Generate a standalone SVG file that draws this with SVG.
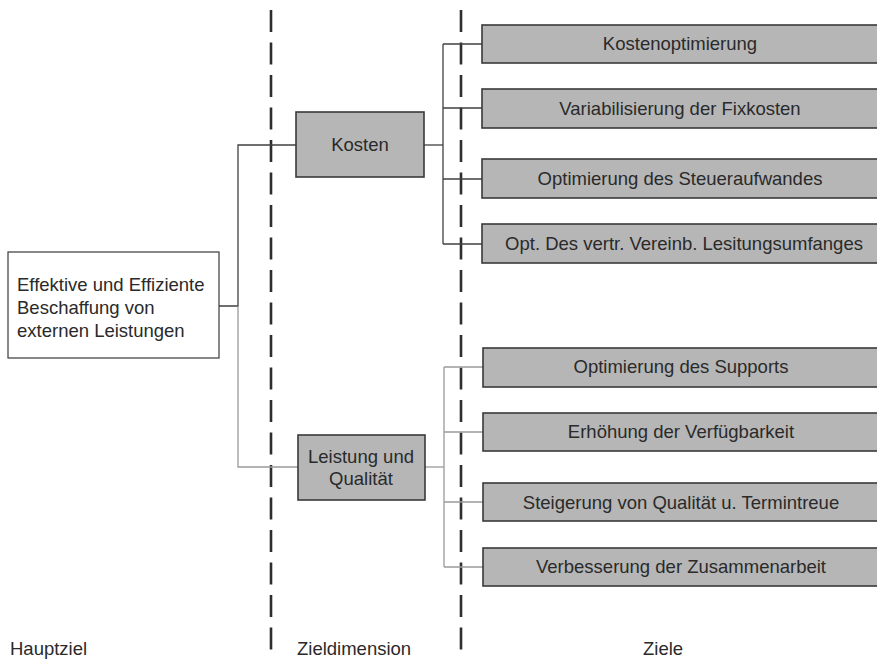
<svg xmlns="http://www.w3.org/2000/svg" width="877" height="660" viewBox="0 0 877 660">
<style>
.box{fill:#b6b6b6;stroke:#3a3a3a;stroke-width:1.6}
.main{fill:#ffffff;stroke:#3a3a3a;stroke-width:1.2}
.t{font-family:"Liberation Sans",Arial,sans-serif;font-size:18.5px;fill:#2a2a2a}
.c{text-anchor:middle}
.dash{stroke:#2e2e2e;stroke-width:2.6;stroke-dasharray:22 10.5;fill:none}
.dk{stroke:#404040;stroke-width:1.3;fill:none}
.lt{stroke:#9a9a9a;stroke-width:1.3;fill:none}
</style>
<g id="dividers">
<line class="dash" x1="271" y1="10" x2="271" y2="650"/>
<line class="dash" x1="461" y1="10" x2="461" y2="650"/>
</g>
<g id="connectors">
<path class="dk" d="M219,306 H238 V145 H296"/>
<path class="lt" d="M238,306 V467 H298"/>
<path class="dk" d="M424,145 H443"/>
<path class="dk" d="M443,44 V244"/>
<path class="dk" d="M443,44 H482 M443,108 H482 M443,179 H482 M443,244 H482"/>
<path class="lt" d="M425,467 H444"/>
<path class="lt" d="M444,367 V567"/>
<path class="lt" d="M444,367 H483 M444,432 H483 M444,502 H483 M444,567 H483"/>
</g>
<g id="hauptziel">
<rect class="main" x="8" y="252" width="211" height="106"/>
<text class="t" x="17" y="291">Effektive und Effiziente</text>
<text class="t" x="17" y="314">Beschaffung von</text>
<text class="t" x="17" y="337">externen Leistungen</text>
</g>
<g id="kosten">
<rect class="box" x="296" y="112" width="128" height="65"/>
<text class="t c" x="360" y="151">Kosten</text>
</g>
<g id="leistung">
<rect class="box" x="298" y="435" width="127" height="65"/>
<text class="t c" x="361" y="463">Leistung und</text>
<text class="t c" x="361" y="485">Qualität</text>
</g>
<g id="z1"><rect class="box" x="482" y="25" width="400" height="38"/><text class="t c" x="680" y="50">Kostenoptimierung</text></g>
<g id="z2"><rect class="box" x="482" y="89" width="400" height="39"/><text class="t c" x="680" y="115">Variabilisierung der Fixkosten</text></g>
<g id="z3"><rect class="box" x="482" y="159" width="400" height="39"/><text class="t c" x="680" y="185">Optimierung des Steueraufwandes</text></g>
<g id="z4"><rect class="box" x="482" y="224" width="400" height="39"/><text class="t c" x="684" y="250">Opt. Des vertr. Vereinb. Lesitungsumfanges</text></g>
<g id="z5"><rect class="box" x="483" y="348" width="400" height="39"/><text class="t c" x="681" y="373">Optimierung des Supports</text></g>
<g id="z6"><rect class="box" x="483" y="413" width="400" height="38"/><text class="t c" x="681" y="438">Erhöhung der Verfügbarkeit</text></g>
<g id="z7"><rect class="box" x="483" y="483" width="400" height="38"/><text class="t c" x="681" y="509">Steigerung von Qualität u. Termintreue</text></g>
<g id="z8"><rect class="box" x="483" y="548" width="400" height="38"/><text class="t c" x="681" y="573">Verbesserung der Zusammenarbeit</text></g>
<g id="labels">
<text class="t" x="10" y="655">Hauptziel</text>
<text class="t" x="297" y="655">Zieldimension</text>
<text class="t" x="643" y="655">Ziele</text>
</g>
</svg>
